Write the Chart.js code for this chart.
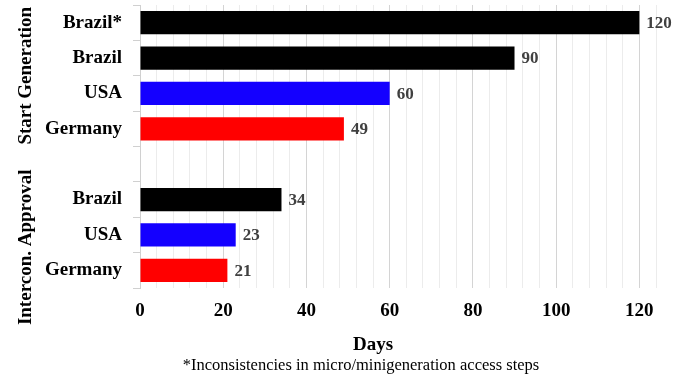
<!DOCTYPE html>
<html>
<head>
<meta charset="utf-8">
<script src="https://cdn.jsdelivr.net/npm/chart.js@4.4.0/dist/chart.umd.min.js"></script>
<style>
  html, body { margin: 0; padding: 0; background: #fff; }
  #wrap { width: 686px; height: 375px; }
</style>
</head>
<body>
<div id="wrap"><canvas id="daysChart" width="686" height="375"></canvas></div>
<script>
// rows top to bottom, the empty one is the gap between the two groups
const categories = ['Brazil*', 'Brazil', 'USA', 'Germany', '', 'Brazil', 'USA', 'Germany'];
const days = [120, 90, 60, 49, null, 34, 23, 21];
const groupNames = ['Start Generation', 'Intercon. Approval'];
const groupCenters = [1.5, 6.35];   // row index the group label sits on
const xTickLabels = [0, 20, 40, 60, 80, 100, 120];
const footnote = '*Inconsistencies in micro/minigeneration access steps';

const serif = "'Liberation Serif', 'Times New Roman', serif";
const countryColors = { 'Brazil*': '#000000', 'Brazil': '#000000', 'USA': '#1400ff', 'Germany': '#ff0000' };

const extraText = {
    id: 'extraText',
    afterDatasetsDraw(chart) {
        const ctx = chart.ctx;
        const yScale = chart.scales.y;
        const meta = chart.getDatasetMeta(0);

        // value labels at the bar ends
        ctx.save();
        ctx.font = 'bold 17px ' + serif;
        ctx.fillStyle = '#404040';
        ctx.textAlign = 'left';
        ctx.textBaseline = 'middle';
        meta.data.forEach(function (bar, i) {
            if (days[i] == null) return;
            ctx.fillText(String(days[i]), bar.x + 7, bar.y + 1);
        });
        ctx.restore();

        // rotated group names
        ctx.save();
        ctx.font = 'bold 19px ' + serif;
        ctx.fillStyle = '#000';
        ctx.textAlign = 'center';
        ctx.textBaseline = 'middle';
        groupNames.forEach(function (name, g) {
            const y = yScale.getPixelForValue(groupCenters[g]);
            ctx.save();
            ctx.translate(26, y);
            ctx.rotate(-Math.PI / 2);
            ctx.fillText(name, 0, 0);
            ctx.restore();
        });
        ctx.restore();

        // axis title and footnote
        ctx.save();
        ctx.fillStyle = '#000';
        ctx.textAlign = 'center';
        ctx.textBaseline = 'alphabetic';
        ctx.font = 'bold 19px ' + serif;
        ctx.fillText('Days', 373, 350);
        ctx.font = '16.5px ' + serif;
        ctx.fillText(footnote, 361, 370);
        ctx.restore();
    }
};

const chart = new Chart(document.getElementById('daysChart').getContext('2d'), {
    type: 'bar',
    data: {
        labels: categories,
        datasets: [{
            data: days,
            backgroundColor: categories.map(c => countryColors[c] || '#000'),
            barPercentage: 0.66,
            categoryPercentage: 1
        }]
    },
    options: {
        indexAxis: 'y',
        responsive: false,
        animation: false,
        layout: { padding: { top: 5, right: 30, left: 0, bottom: 0 } },
        plugins: {
            legend: { display: false },
            tooltip: { enabled: false }
        },
        scales: {
            x: {
                min: 0,
                max: 124,
                afterFit: function (scale) { scale.height = 87; },
                ticks: {
                    stepSize: 4,
                    autoSkip: false,
                    maxRotation: 0,
                    padding: 12,
                    color: '#000',
                    font: { family: serif, size: 19, weight: 'bold' },
                    callback: function (value) {
                        return xTickLabels.includes(value) ? String(value) : '';
                    }
                },
                grid: {
                    drawTicks: false,
                    color: function (c) {
                        return c.tick && c.tick.value % 20 === 0 ? '#d4d4d4' : '#ececec';
                    }
                },
                border: { display: false }
            },
            y: {
                afterFit: function (scale) {
                    scale.width = 140;
                    scale.paddingTop = 0;
                    scale.paddingBottom = 0;
                },
                ticks: {
                    padding: 11,
                    color: '#000',
                    font: { family: serif, size: 19, weight: 'bold' }
                },
                grid: {
                    offset: true,
                    drawOnChartArea: false,
                    tickLength: 7,
                    color: '#d0d0d0'
                },
                border: { display: true, color: '#d0d0d0' }
            }
        }
    },
    plugins: [extraText]
});
</script>
</body>
</html>
